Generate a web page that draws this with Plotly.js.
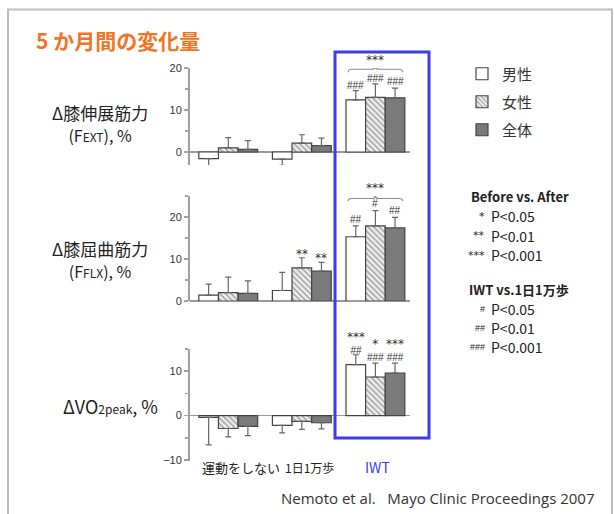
<!DOCTYPE html>
<html>
<head>
<meta charset="utf-8">
<script src="https://cdn.plot.ly/plotly-3.0.1.min.js"></script>
<style>html,body{margin:0;padding:0;background:#fff;}#chart{width:614px;height:514px;}</style>
</head>
<body>
<div id="chart"></div>
<script>
// ---- data ----
const categories = ['運動をしない', '1日1万歩', 'IWT'];
const seriesNames = ['男性', '女性', '全体'];

// Δ knee extension strength (FEXT), %
const extMale = [-1.6, -1.7, 12.4];
const extFemale = [1.0, 2.1, 13.0];
const extAll = [0.6, 1.5, 12.9];
const extMaleErr = [2.8, 1.5, 2.2];
const extFemaleErr = [2.4, 2.0, 3.2];
const extAllErr = [2.1, 1.8, 2.3];

// Δ knee flexion strength (FFLX), %
const flxMale = [1.4, 2.5, 15.3];
const flxFemale = [2.0, 7.9, 17.9];
const flxAll = [1.8, 7.1, 17.4];
const flxMaleErr = [2.6, 4.3, 2.6];
const flxFemaleErr = [3.7, 2.4, 3.6];
const flxAllErr = [3.0, 2.1, 2.5];

// Δ VO2peak, %
const voMale = [-0.4, -2.2, 11.5];
const voFemale = [-2.9, -1.3, 8.7];
const voAll = [-2.4, -1.6, 9.6];
const voMaleErr = [6.2, 1.7, 2.2];
const voFemaleErr = [1.9, 1.8, 3.1];
const voAllErr = [2.1, 1.4, 2.2];

// ---- styles ----
const FONT = 'Noto Sans CJK JP, Noto Sans, sans-serif';
const W = 614, H = 514;
const px = v => v / W;
const py = v => 1 - v / H;

const seriesStyle = [
  {color: '#ffffff'},
  {color: '#eeeeee', pattern: {shape: '\\', fgcolor: '#9a9a9a', bgcolor: '#efefef', size: 4, solidity: 0.35}},
  {color: '#7a7a7a'}
];

const ranges = [[-3.1, 20], [0, 25], [-10.15, 15]];
const panels = [
  {vals: [extMale, extFemale, extAll], errs: [extMaleErr, extFemaleErr, extAllErr]},
  {vals: [flxMale, flxFemale, flxAll], errs: [flxMaleErr, flxFemaleErr, flxAllErr]},
  {vals: [voMale, voFemale, voAll], errs: [voMaleErr, voFemaleErr, voAllErr]}
];

const xIdx = categories.map((c, i) => i);
const traces = [];
const legendIds = ['legend', 'legend2', 'legend3'];
panels.forEach((p, pi) => {
  p.vals.forEach((vals, si) => {
    const errs = p.errs[si];
    traces.push({
      type: 'bar',
      name: seriesNames[si],
      x: xIdx,
      y: vals,
      xaxis: 'x' + (pi === 0 ? '' : pi + 1),
      yaxis: 'y' + (pi === 0 ? '' : pi + 1),
      showlegend: pi === 0,
      legend: legendIds[si],
      marker: Object.assign({line: {color: '#444', width: 1.2}}, seriesStyle[si]),
      error_y: {
        type: 'data', symmetric: false,
        array: vals.map((v, i) => v >= 0 ? errs[i] : 0),
        arrayminus: vals.map((v, i) => v < 0 ? errs[i] : 0),
        color: '#666', thickness: 1.2, width: 3
      },
      hoverinfo: 'skip'
    });
  });
});

const xDomain = [px(190), px(410)];
const xBase = {domain: xDomain, range: [-0.52, 2.47], showticklabels: false, ticks: '', showgrid: false, zeroline: false, showline: false, fixedrange: true};
const yBase = {
  showgrid: false, zeroline: true, zerolinecolor: '#999', zerolinewidth: 1.5,
  showline: true, linecolor: '#a0a0a0', linewidth: 2,
  ticks: 'outside', ticklen: 4, tickcolor: '#a0a0a0', tickwidth: 1.5,
  dtick: 10, tick0: 0,
  minor: {dtick: 5, ticks: 'outside', ticklen: 3, tickcolor: '#a0a0a0', tickwidth: 1.5},
  tickfont: {family: 'Liberation Sans, Arial, sans-serif', size: 11, color: '#333'},
  fixedrange: true
};

const legFont = {family: FONT, size: 15, color: '#333'};
const layout = {
  width: W, height: H,
  margin: {l: 0, r: 0, t: 0, b: 0},
  paper_bgcolor: '#fff', plot_bgcolor: 'rgba(0,0,0,0)',
  barmode: 'group', bargap: 0.2, bargroupgap: 0,
  showlegend: true,
  xaxis: Object.assign({anchor: 'y'}, xBase),
  xaxis2: Object.assign({anchor: 'y2'}, xBase),
  xaxis3: Object.assign({anchor: 'y3'}, xBase),
  yaxis: Object.assign({anchor: 'x', domain: [py(165), py(68)], range: ranges[0]}, yBase),
  yaxis2: Object.assign({anchor: 'x2', domain: [py(301), py(196)], range: ranges[1]}, yBase),
  yaxis3: Object.assign({anchor: 'x3', domain: [py(460.7), py(349)], range: ranges[2]}, yBase),
  legend: {x: px(462), xanchor: 'left', y: py(74), yanchor: 'middle', font: legFont, bgcolor: 'rgba(0,0,0,0)'},
  legend2: {x: px(462), xanchor: 'left', y: py(102), yanchor: 'middle', font: legFont, bgcolor: 'rgba(0,0,0,0)'},
  legend3: {x: px(462), xanchor: 'left', y: py(130), yanchor: 'middle', font: legFont, bgcolor: 'rgba(0,0,0,0)'},
  shapes: [],
  annotations: []
};

// outer frame and IWT highlight box
layout.shapes.push({type: 'rect', xref: 'paper', yref: 'paper', x0: px(8), x1: px(612), y0: -0.02, y1: py(9.5), line: {color: '#bdbdbd', width: 2}});
layout.shapes.push({type: 'rect', xref: 'paper', yref: 'paper', x0: px(335), x1: px(429), y0: py(438), y1: py(52), line: {color: '#3b3bf0', width: 3}});

// braces over IWT group
function brace(xr, yr, cx, half, y0, y1, y2) {
  const d = 0.05, x0 = cx - half, x1 = cx + half;
  const path = `M ${x0},${y0} Q ${x0},${y1} ${x0 + d},${y1} L ${cx - d},${y1} Q ${cx},${y1} ${cx},${y2} Q ${cx},${y1} ${cx + d},${y1} L ${x1 - d},${y1} Q ${x1},${y1} ${x1},${y0}`;
  return {type: 'path', xref: xr, yref: yr, path: path, line: {color: '#8a8a8a', width: 1.2}};
}
layout.shapes.push(brace('x', 'y', 2, 0.37, 19.0, 19.7, 20.4));
layout.shapes.push(brace('x2', 'y2', 2, 0.37, 23.8, 24.4, 25.1));

// significance marks (placed via the panel's y domain so marks above the range stay visible)
const barOff = [-0.2667, 0, 0.2667];
const STAR = 'font-family:DejaVu Sans;font-size:12px';
function mark(panel, g, s, txt, y) {
  const r = ranges[panel];
  const sfx = panel === 0 ? '' : String(panel + 1);
  layout.annotations.push({xref: 'x' + sfx, yref: 'y' + sfx + ' domain', x: g + (s === null ? 0 : barOff[s]),
    y: (y - r[0]) / (r[1] - r[0]), text: txt, showarrow: false, borderpad: 0,
    font: {family: 'Liberation Sans, Arial, sans-serif', size: 10, color: '#333'},
    xanchor: 'center', yanchor: 'middle'});
}
function star(t) { return '<span style="' + STAR + '">' + t + '</span>'; }
mark(0, 2, null, star('***'), 21.9);
mark(0, 2, 0, '###', 15.8);
mark(0, 2, 1, '###', 17.6);
mark(0, 2, 2, '###', 16.8);
mark(1, 2, null, star('***'), 26.8);
mark(1, 2, 0, '##', 19.5);
mark(1, 2, 1, '#', 23.1);
mark(1, 2, 2, '##', 21.5);
mark(1, 1, 1, star('**'), 11.2);
mark(1, 1, 2, star('**'), 10.2);
mark(2, 2, 0, star('***') + '<br>##', 16.3);
mark(2, 2, 1, star('*') + '<br>###', 14.7);
mark(2, 2, 2, star('***') + '<br>###', 14.7);

// category labels
const catShift = [13, 8, 2];
const catSize = [13, 12, 14];
categories.forEach((c, i) => {
  layout.annotations.push({xref: 'x3', yref: 'paper', x: i, y: py(467), xshift: catShift[i], text: c, showarrow: false,
    font: {family: FONT, size: catSize[i], color: i === 2 ? '#3b3bf0' : '#222'}, xanchor: 'center', yanchor: 'middle'});
});

function txt(x, y, t, size, opts) {
  layout.annotations.push(Object.assign({xref: 'paper', yref: 'paper', x: px(x), y: py(y), text: t, showarrow: false,
    font: {family: FONT, size: size, color: '#222'}, xanchor: 'center', yanchor: 'middle'}, opts || {}));
}
// title
txt(34, 40, '<b>5 か月間の変化量</b>', 21, {xanchor: 'left', font: {family: FONT, size: 21, color: '#f07522'}});
// y titles (two lines each)
txt(100, 123, 'Δ膝伸展筋力<br><span style="font-size:16px">(F<span style="font-size:12px">EXT</span>), %</span>', 17);
txt(100, 259, 'Δ膝屈曲筋力<br><span style="font-size:16px">(F<span style="font-size:12px">FLX</span>), %</span>', 17);
txt(110, 406, 'ΔVO<span style="font-size:12px">2peak</span>, %', 18);

// notes
txt(520, 197, '<b>Before vs. After</b>', 13);
txt(519, 289, '<b>IWT vs.1日1万歩</b>', 13);
const noteSym = ['*', '**', '***', '#', '##', '###'];
const noteP = ['P<0.05', 'P<0.01', 'P<0.001', 'P<0.05', 'P<0.01', 'P<0.001'];
const noteY = [216, 236, 255, 309, 328, 347];
noteSym.forEach((s, i) => {
  txt(487, noteY[i], s, 10, {xanchor: 'right', font: i < 3 ? {family: 'DejaVu Sans, sans-serif', size: 11, color: '#222'}
                                                          : {family: 'Liberation Sans, Arial, sans-serif', size: 9, color: '#222'}});
  txt(489, noteY[i], noteP[i], 14, {xanchor: 'left'});
});

// source
txt(597, 498, 'Nemoto et al.&nbsp;&nbsp;&nbsp;Mayo Clinic Proceedings 2007', 15, {xanchor: 'right', font: {family: 'Open Sans, sans-serif', size: 15, color: '#333'}});

Plotly.newPlot('chart', traces, layout, {displayModeBar: false, staticPlot: true});
</script>
</body>
</html>
